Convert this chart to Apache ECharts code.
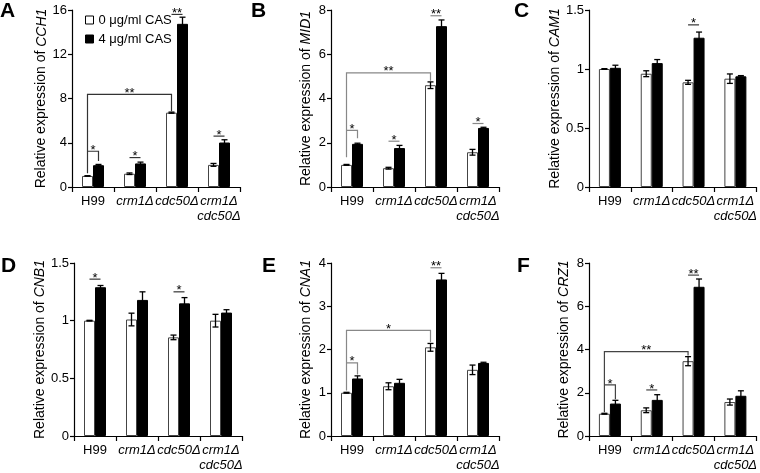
<!DOCTYPE html>
<html><head><meta charset="utf-8">
<script src="https://cdn.jsdelivr.net/npm/echarts@6/dist/echarts.min.js"></script>
<style>html,body{margin:0;padding:0;background:#fff}#c{width:760px;height:473px}</style>
</head><body><div id="c"></div>
<script>
// ---------- data ----------
const categories = ['H99', 'crm1Δ', 'cdc50Δ', 'crm1Δ\ncdc50Δ'];
const seriesNames = ['0 μg/ml CAS', '4 μg/ml CAS'];
const panelLetters = ['A', 'B', 'C', 'D', 'E', 'F'];
const genes = ['CCH1', 'MID1', 'CAM1', 'CNB1', 'CNA1', 'CRZ1'];
const axisMax = [16, 8, 1.5, 1.5, 4, 8];
const axisStep = [4, 2, 0.5, 0.5, 1, 2];

// Panel A - CCH1
const aCtrl = [1.0, 1.2, 6.72, 2.0];
const aCtrlErr = [0.02, 0.07, 0.05, 0.13];
const aCas = [1.97, 2.13, 14.75, 4.02];
const aCasErr = [0.07, 0.12, 0.6, 0.25];
// Panel B - MID1
const bCtrl = [1.0, 0.85, 4.6, 1.57];
const bCtrlErr = [0.02, 0.04, 0.15, 0.13];
const bCas = [1.95, 1.76, 7.27, 2.67];
const bCasErr = [0.03, 0.12, 0.28, 0.03];
// Panel C - CAM1
const cCtrl = [1.0, 0.96, 0.887, 0.918];
const cCtrlErr = [0.003, 0.025, 0.017, 0.04];
const cCas = [1.01, 1.05, 1.265, 0.938];
const cCasErr = [0.022, 0.03, 0.048, 0.006];
// Panel D - CNB1
const dCtrl = [1.0, 1.01, 0.855, 1.0];
const dCtrlErr = [0.003, 0.055, 0.02, 0.055];
const dCas = [1.29, 1.18, 1.15, 1.07];
const dCasErr = [0.015, 0.07, 0.05, 0.025];
// Panel E - CNA1
const eCtrl = [1.0, 1.15, 2.05, 1.53];
const eCtrlErr = [0.01, 0.08, 0.09, 0.11];
const eCas = [1.33, 1.23, 3.62, 1.69];
const eCasErr = [0.06, 0.08, 0.14, 0.015];
// Panel F - CRZ1
const fCtrl = [1.03, 1.19, 3.46, 1.57];
const fCtrlErr = [0.02, 0.11, 0.21, 0.14];
const fCas = [1.5, 1.67, 6.9, 1.86];
const fCasErr = [0.15, 0.24, 0.36, 0.23];

// significance brackets: [cat1, bar1(0 ctrl/1 CAS), cat2, bar2, level, leftLegEnd, rightLegEnd]
const aSig = [[0,0,2,0,8.37,1.25,6.85],[0,0,0,1,3.23,3.23,2.35],[1,0,1,1,2.66,2.66,2.66],[2,0,2,1,15.6,15.6,15.6],[3,0,3,1,4.6,4.6,4.6]];
const aSigText = ['**', '*', '*', '**', '*'];
const bSig = [[0,0,2,0,5.16,1.35,4.8],[0,0,0,1,2.56,2.56,2.2],[1,0,1,1,2.07,2.07,2.07],[2,0,2,1,7.74,7.74,7.74],[3,0,3,1,2.87,2.87,2.87]];
const bSigText = ['**', '*', '*', '**', '*'];
const cSig = [[2,0,2,1,1.374,1.374,1.374]];
const cSigText = ['*'];
const dSig = [[0,0,0,1,1.36,1.36,1.36],[2,0,2,1,1.25,1.25,1.25]];
const dSigText = ['*', '*'];
const eSig = [[0,0,2,0,2.44,1.05,2.17],[0,0,0,1,1.69,1.69,1.42],[2,0,2,1,3.89,3.89,3.89]];
const eSigText = ['*', '*', '**'];
const fSig = [[0,0,2,0,3.9,1.1,3.72],[0,0,0,1,2.36,2.36,1.7],[1,0,1,1,2.13,2.13,2.13],[2,0,2,1,7.44,7.44,7.44]];
const fSigText = ['**', '*', '*', '**'];

// ---------- layout / style ----------
const FONT = '"Liberation Sans", Arial, sans-serif';
const panels = [
  {ctrl:aCtrl, ctrlErr:aCtrlErr, cas:aCas, casErr:aCasErr, sig:aSig, sigText:aSigText, left:72, top:10, lx:0, ly:1, sigColor:'#333'},
  {ctrl:bCtrl, ctrlErr:bCtrlErr, cas:bCas, casErr:bCasErr, sig:bSig, sigText:bSigText, left:331, top:10, lx:251, ly:1, sigColor:'#888'},
  {ctrl:cCtrl, ctrlErr:cCtrlErr, cas:cCas, casErr:cCasErr, sig:cSig, sigText:cSigText, left:589, top:10, lx:514, ly:1, sigColor:'#333'},
  {ctrl:dCtrl, ctrlErr:dCtrlErr, cas:dCas, casErr:dCasErr, sig:dSig, sigText:dSigText, left:74, top:263, lx:1, ly:256, sigColor:'#333'},
  {ctrl:eCtrl, ctrlErr:eCtrlErr, cas:eCas, casErr:eCasErr, sig:eSig, sigText:eSigText, left:331, top:263, lx:262, ly:256, sigColor:'#888'},
  {ctrl:fCtrl, ctrlErr:fCtrlErr, cas:fCas, casErr:fCasErr, sig:fSig, sigText:fSigText, left:589, top:263, lx:517, ly:256, sigColor:'#444'}
];
const BAR_W = 11;
const HALF = BAR_W / 2;

function errRender(offset) {
  return function (params, api) {
    const c = api.value(0), v = api.value(1), e = api.value(2);
    const t = api.coord([c, v + e]);
    const b = api.coord([c, v - e]);
    const x = t[0] + offset;
    const st = {stroke: '#000', lineWidth: 1.3};
    return {type: 'group', children: [
      {type: 'line', shape: {x1: x, y1: t[1], x2: x, y2: b[1]}, style: st},
      {type: 'line', shape: {x1: x - 3, y1: t[1], x2: x + 3, y2: t[1]}, style: st},
      {type: 'line', shape: {x1: x - 3, y1: b[1], x2: x + 3, y2: b[1]}, style: st}
    ]};
  };
}
function sigRender(texts, color) {
  return function (params, api) {
    const c1 = api.value(0), s1 = api.value(1), c2 = api.value(2), s2 = api.value(3);
    const lv = api.value(4), l1 = api.value(5), l2 = api.value(6);
    const p1 = api.coord([c1, lv]), p2 = api.coord([c2, lv]);
    const x1 = p1[0] + (s1 ? HALF : -HALF);
    const x2 = p2[0] + (s2 ? HALF : -HALF);
    const y = p1[1];
    const y1 = api.coord([c1, l1])[1];
    const y2 = api.coord([c2, l2])[1];
    return {type: 'group', children: [
      {type: 'polyline', shape: {points: [[x1, y1], [x1, y], [x2, y], [x2, y2]]}, style: {stroke: color, lineWidth: 1.2, fill: null}},
      {type: 'text', x: (x1 + x2) / 2, y: y - 1, style: {text: texts[params.dataIndex], font: '13px ' + FONT, fill: '#000', textAlign: 'center', textVerticalAlign: 'middle'}}
    ]};
  };
}

const grid = [], xAxis = [], yAxis = [], series = [], graphic = [];
panels.forEach((p, k) => {
  grid.push({left: p.left, top: p.top, width: 168, height: 177});
  xAxis.push({
    type: 'category', gridIndex: k, data: categories,
    axisLine: {lineStyle: {color: '#000', width: 1.2}},
    axisTick: {show: true, length: 5, lineStyle: {color: '#000', width: 1.2}},
    axisLabel: {
      interval: 0, margin: 7, color: '#000', fontFamily: FONT, fontSize: 13, lineHeight: 15,
      formatter: v => v === 'H99' ? '{n|H99}' : v.split('\n').map(s => '{i|' + s + '}').join('\n'),
      rich: {
        n: {fontFamily: FONT, fontSize: 13, lineHeight: 15, color: '#000'},
        i: {fontFamily: FONT, fontSize: 13, lineHeight: 15, color: '#000', fontStyle: 'italic'}
      }
    }
  });
  yAxis.push({
    type: 'value', gridIndex: k, min: 0, max: axisMax[k], interval: axisStep[k],
    name: 'Relative expression of {i|' + genes[k] + '}',
    nameLocation: 'middle', nameGap: 18,
    nameTextStyle: {fontFamily: FONT, fontSize: 14, color: '#000',
      rich: {i: {fontFamily: FONT, fontSize: 14, color: '#000', fontStyle: 'italic'}}},
    axisLine: {show: true, lineStyle: {color: '#000', width: 1.2}},
    axisTick: {show: true, length: 4, lineStyle: {color: '#000', width: 1.2}},
    axisLabel: {color: '#000', fontFamily: FONT, fontSize: 13, margin: 5},
    splitLine: {show: false}
  });
  series.push({
    name: seriesNames[0], type: 'bar', xAxisIndex: k, yAxisIndex: k, data: p.ctrl,
    barWidth: BAR_W, barGap: '0%',
    itemStyle: {color: '#fff', borderColor: '#444', borderWidth: 1}
  });
  series.push({
    name: seriesNames[1], type: 'bar', xAxisIndex: k, yAxisIndex: k, data: p.cas,
    barWidth: BAR_W, barGap: '0%',
    itemStyle: {color: '#000', borderColor: '#000', borderWidth: 1}
  });
  series.push({
    type: 'custom', xAxisIndex: k, yAxisIndex: k, encode: {x: 0, y: 1}, z: 5,
    data: p.ctrl.map((v, i) => [i, v, p.ctrlErr[i]]), renderItem: errRender(-HALF)
  });
  series.push({
    type: 'custom', xAxisIndex: k, yAxisIndex: k, encode: {x: 0, y: 1}, z: 5,
    data: p.cas.map((v, i) => [i, v, p.casErr[i]]), renderItem: errRender(HALF)
  });
  series.push({
    type: 'custom', xAxisIndex: k, yAxisIndex: k, encode: {x: 0, y: 4}, z: 6,
    data: p.sig, renderItem: sigRender(p.sigText, p.sigColor)
  });
  graphic.push({type: 'text', left: p.lx, top: p.ly,
    style: {text: panelLetters[k], font: 'bold 21px ' + FONT, fill: '#000'}});
});

const chart = echarts.init(document.getElementById('c'), null, {renderer: 'canvas'});
chart.setOption({
  animation: false,
  backgroundColor: '#fff',
  grid, xAxis, yAxis, series, graphic,
  legend: {
    orient: 'vertical', left: 80, top: 8, itemWidth: 8, itemHeight: 8, itemGap: 5,
    textStyle: {fontFamily: FONT, fontSize: 13, color: '#000', lineHeight: 14},
    data: [
      {name: seriesNames[0], icon: 'rect', itemStyle: {color: '#fff', borderColor: '#000', borderWidth: 1}},
      {name: seriesNames[1], icon: 'rect', itemStyle: {color: '#000', borderColor: '#000', borderWidth: 1}}
    ]
  }
});
</script>
</body></html>
